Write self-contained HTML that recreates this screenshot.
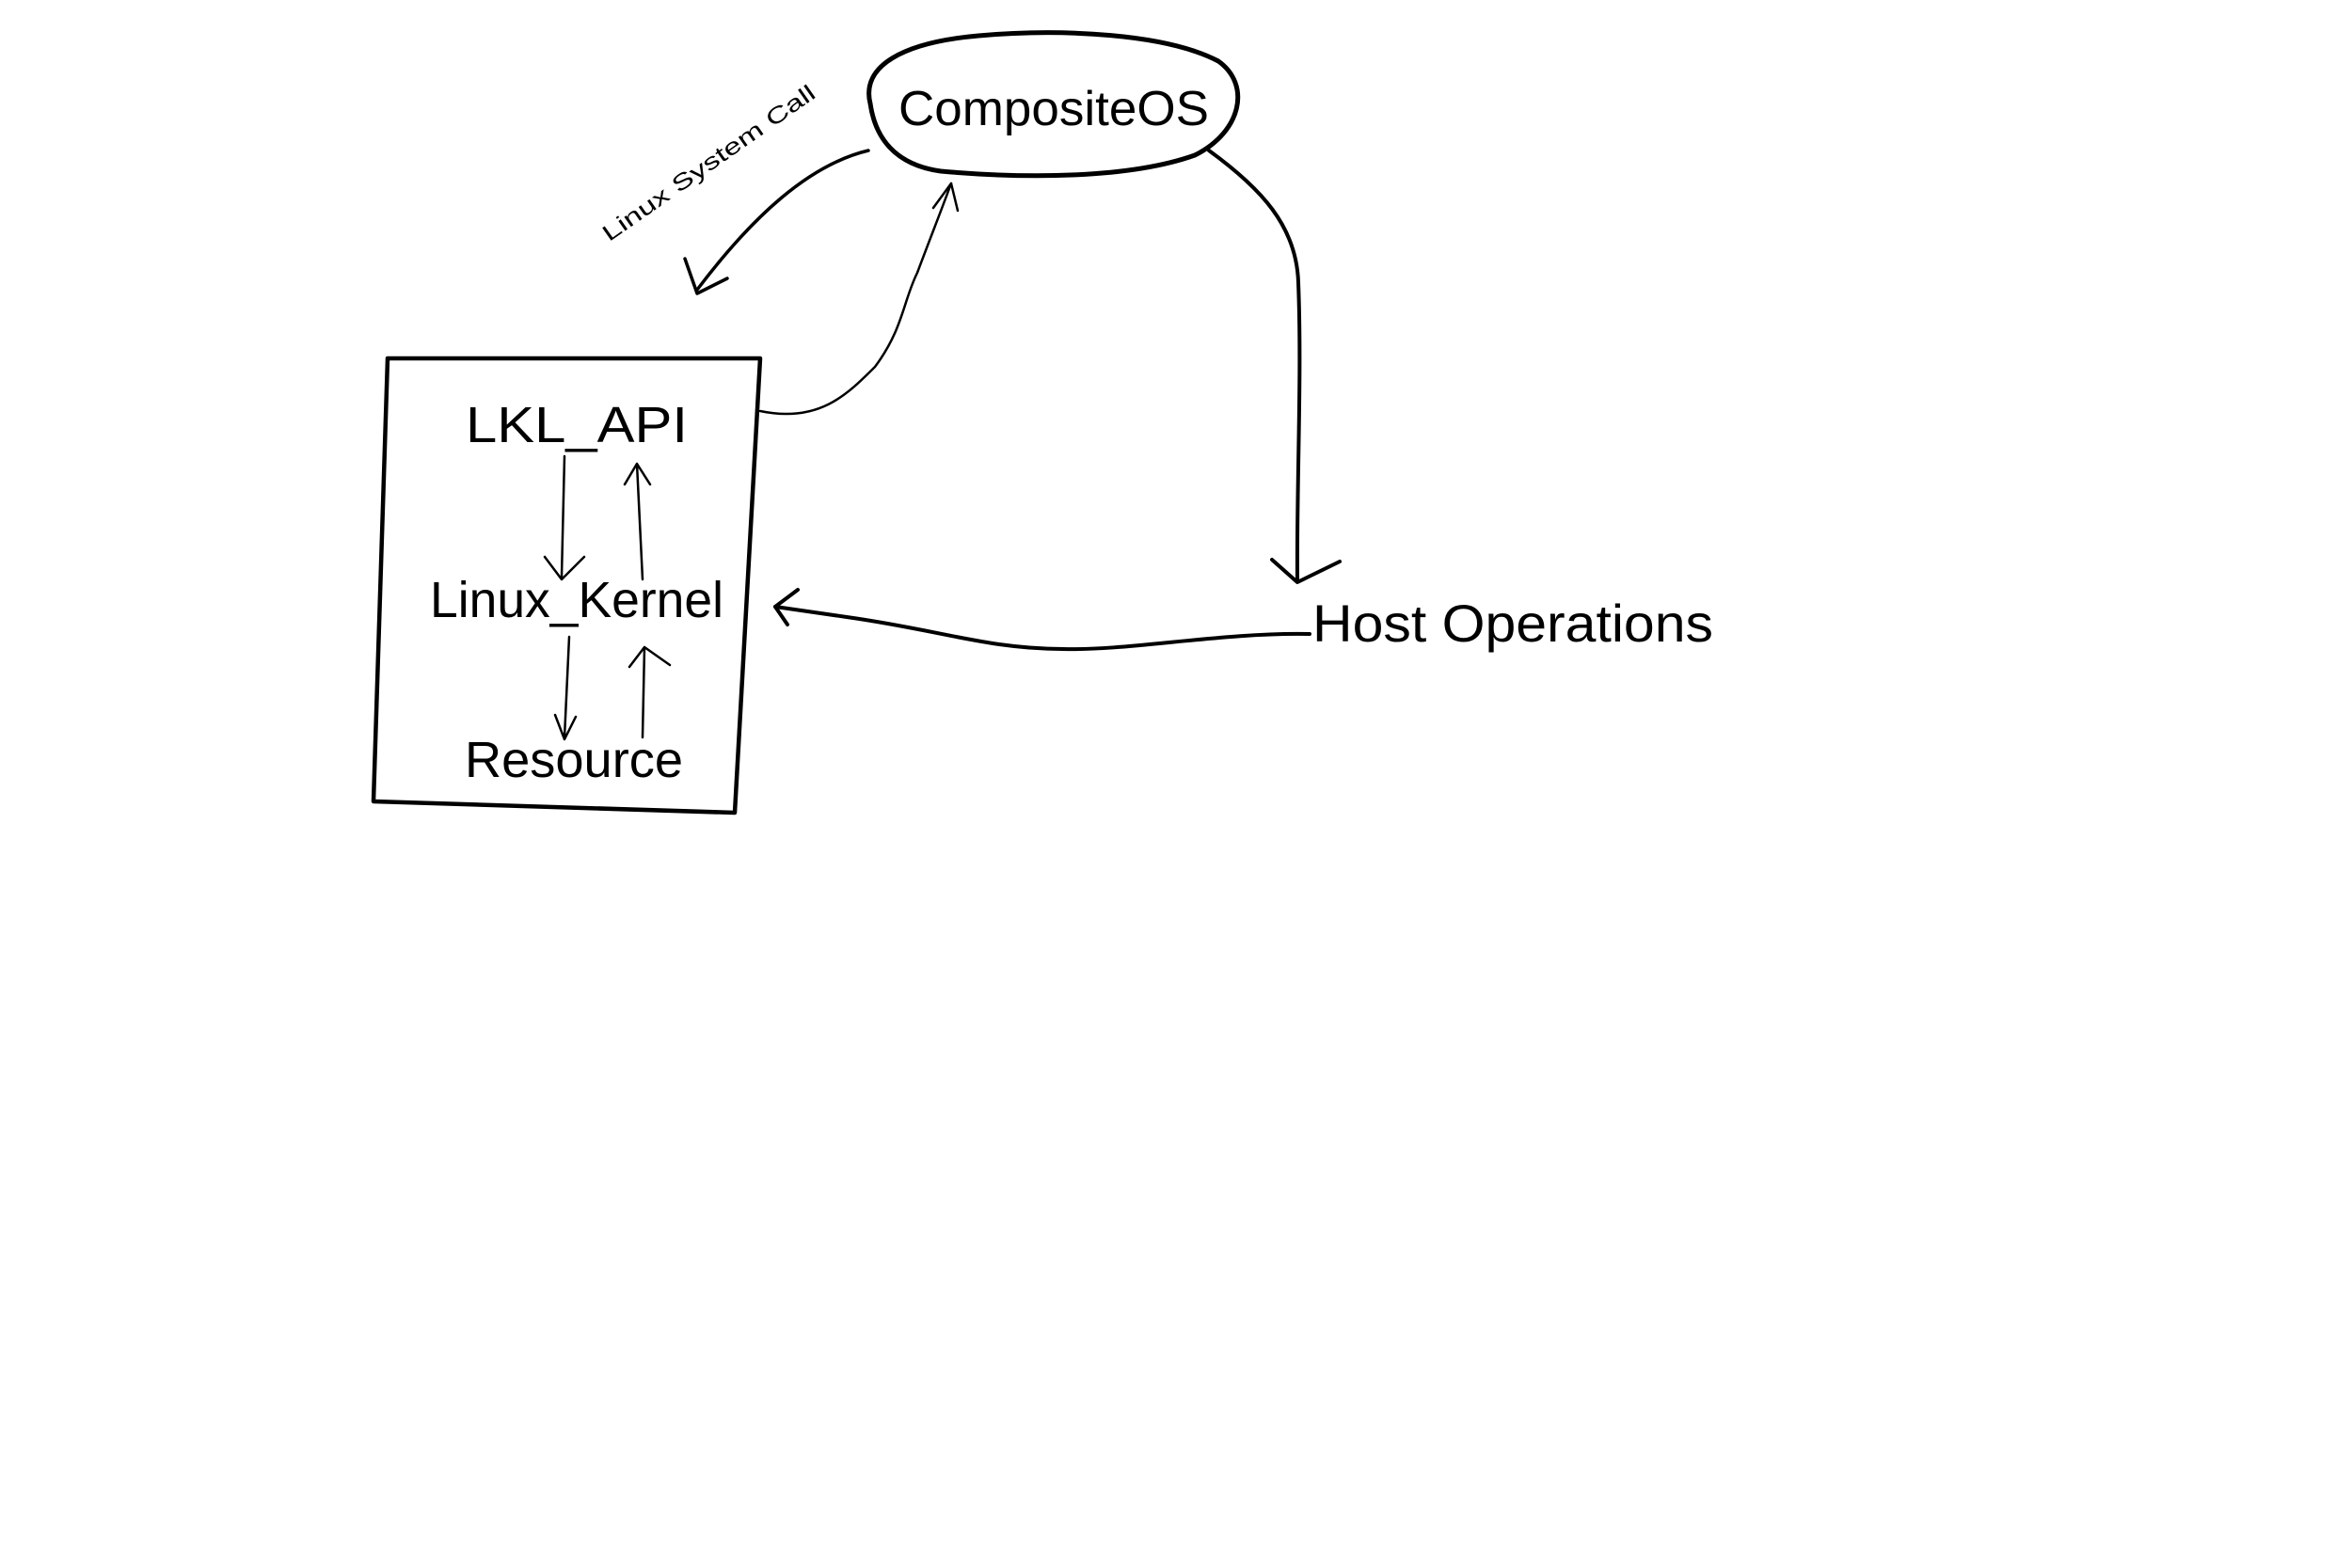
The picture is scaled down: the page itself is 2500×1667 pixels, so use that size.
<!DOCTYPE html>
<html><head><meta charset="utf-8"><style>html,body{margin:0;padding:0;background:#fff}svg{display:block}</style></head>
<body>
<svg width="2500" height="1667" viewBox="0 0 2500 1667" xmlns="http://www.w3.org/2000/svg">
<rect width="2500" height="1667" fill="#fff"/>
<g fill="none" stroke="#000" stroke-linecap="round" stroke-linejoin="round">
<path d="M925 110 C 915 70 960 45 1040 38 C 1130 30 1240 36 1295 65 C 1330 90 1320 140 1270 165 C 1200 190 1090 190 1000 182 C 950 175 930 145 925 110 Z" stroke-width="5"/>
<path d="M412 381 L 808 381 L 781 864 L 397 852 Z" stroke-width="4.5"/>
<path d="M923 160 C 860 175 800 230 741 308" stroke-width="3.5"/>
<path d="M728 275 L 741 312 L 773 296" stroke-width="3.5"/>
<path d="M808 437 C 870 450 900 420 930 390 C 960 350 960 320 975 290 C 990 250 1000 225 1011 195" stroke-width="2.5"/>
<path d="M992 221 L 1011 195 L 1018 224" stroke-width="2.5"/>
<path d="M1285 160 C 1340 200 1378 240 1380 300 C 1384 400 1378 520 1379 617" stroke-width="4"/>
<path d="M1352 595 L 1379 619 L 1424 597" stroke-width="4"/>
<path d="M1392 674 C 1300 672 1200 692 1130 690 C 1050 690 1000 670 900 656 L 824 645" stroke-width="4"/>
<path d="M848 627 L 824 645 L 837 664" stroke-width="4"/>
<path d="M600 485 L 597 613 M579 592 L 597 616 L 621 592" stroke-width="2.5"/>
<path d="M683 616 L 677 493 M664 515 L 677 493 L 691 515" stroke-width="2.5"/>
<path d="M605 677 L 600 784 M590 760 L 600 786 L 612 762" stroke-width="2.5"/>
<path d="M683 784 L 685 688 M669 709 L 685 688 L 712 707" stroke-width="2.5"/>
</g>
<g font-family="Liberation Sans, sans-serif" fill="#000" text-anchor="middle">
<text x="1120" y="133" font-size="52" textLength="330" lengthAdjust="spacingAndGlyphs">CompositeOS</text>
<text x="613" y="470" font-size="54" textLength="236" lengthAdjust="spacingAndGlyphs">LKL_API</text>
<text x="613" y="656" font-size="54" textLength="312" lengthAdjust="spacingAndGlyphs">Linux_Kernel</text>
<text x="610" y="826" font-size="54" textLength="232" lengthAdjust="spacingAndGlyphs">Resource</text>
<text x="1608" y="682" font-size="56" textLength="426" lengthAdjust="spacingAndGlyphs">Host Operations</text>
<text x="0" y="0" font-size="24" textLength="270" lengthAdjust="spacingAndGlyphs" transform="translate(758,180) rotate(-35)">Linux System Call</text>
</g>
</svg>
</body></html>
